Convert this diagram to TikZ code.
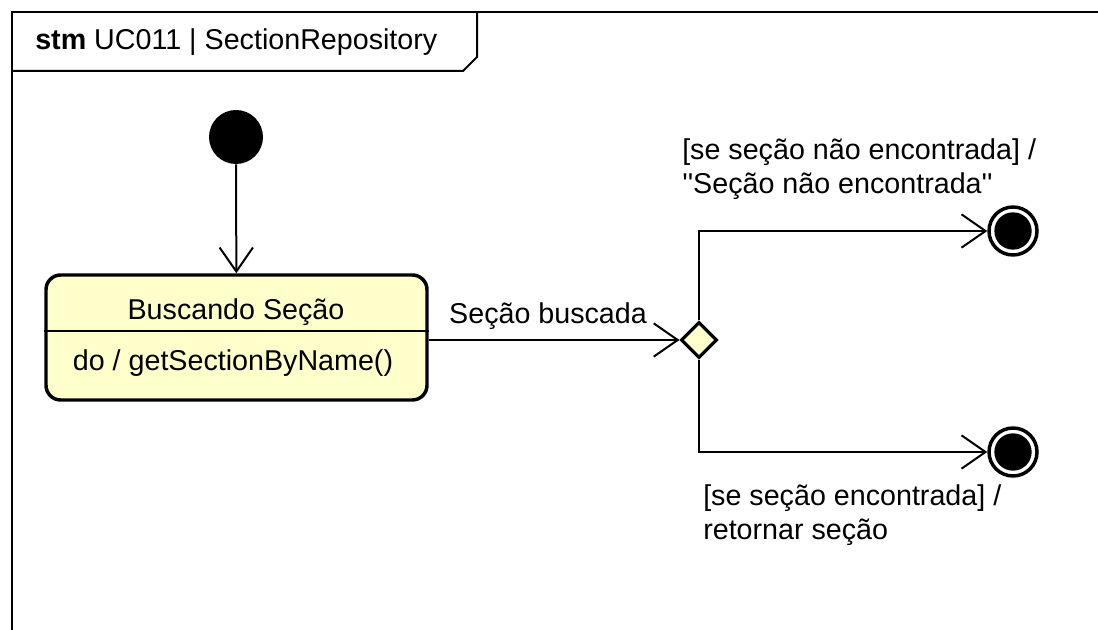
\documentclass[tikz,border=0pt]{standalone}
\usepackage{fontspec}
\setmainfont{Liberation Sans}
\usepackage{tikz}
\usetikzlibrary{shapes.geometric, arrows.meta, positioning}
\definecolor{stateyellow}{HTML}{FFFFCC}
\tikzstyle{initial} = [circle, fill=black, minimum size=40.5pt, inner sep=0pt]
\tikzstyle{final} = [circle, draw=black, line width=2.6pt, fill=white, minimum size=36pt, inner sep=0pt, path picture={\fill[black] (path picture bounding box.center) circle (14pt);}]
\tikzstyle{statebox} = [rectangle, rounded corners=11pt, draw=black, line width=2.6pt, fill=stateyellow, minimum width=285.75pt, minimum height=93.75pt]
\tikzstyle{choicebox} = [diamond, aspect=1, draw=black, line width=2.3pt, fill=stateyellow, minimum size=27pt, inner sep=0pt]
\tikzstyle{label} = [align=left, inner sep=0pt]
\tikzstyle{arrow} = [line width=1.5pt, -{Straight Barb[length=18pt, width=25pt, line width=1.5pt]}]

\begin{document}
\begin{tikzpicture}[x=0.75pt, y=-0.75pt, every node/.style={font=\fontsize{21.5pt}{26pt}\selectfont}]

\fill[white] (0,0) rectangle (1098,630);
\useasboundingbox (0,0) rectangle (1098,630);

% frame
\draw[line width=1.5pt] (1110,12) -- (12,12) -- (12,650);
\draw[line width=1.5pt] (12,71) -- (463,71) -- (477,57) -- (477,12);
\node (title) [label, anchor=west] at (35,42) {\textbf{stm} UC011 | SectionRepository};

\node (init) [initial] at (236,137) {};
\node (state) [statebox] at (236.5,337.5) {};
\node (statename) at (236,312) {Buscando Seção};
\node (stateact) at (233,363) {do / getSectionByName()};
\draw[line width=1.5pt] (state.west |- 0,331) -- (state.east |- 0,331);

\node (choice) [choicebox] at (699,340) {};
\node (fin1) [final] at (1013,231) {};
\node (fin2) [final] at (1013,452) {};

\draw [arrow] (init) -- (state);
\draw [arrow] (state.east |- choice) -- (choice);
\draw [arrow] (choice.north) |- (fin1);
\draw [arrow] (choice.south) |- (fin2);

\node (lblsearch) [label] at (548,316) {Seção buscada};
\node (lblnotfound) [label, anchor=north west] at (682,138) {[se seção não encontrada] /\\\textquotesingle\textquotesingle Seção não encontrada\textquotesingle\textquotesingle};
\node (lblfound) [label, anchor=north west] at (703,484) {[se seção encontrada] /\\retornar seção};

\end{tikzpicture}
\end{document}
